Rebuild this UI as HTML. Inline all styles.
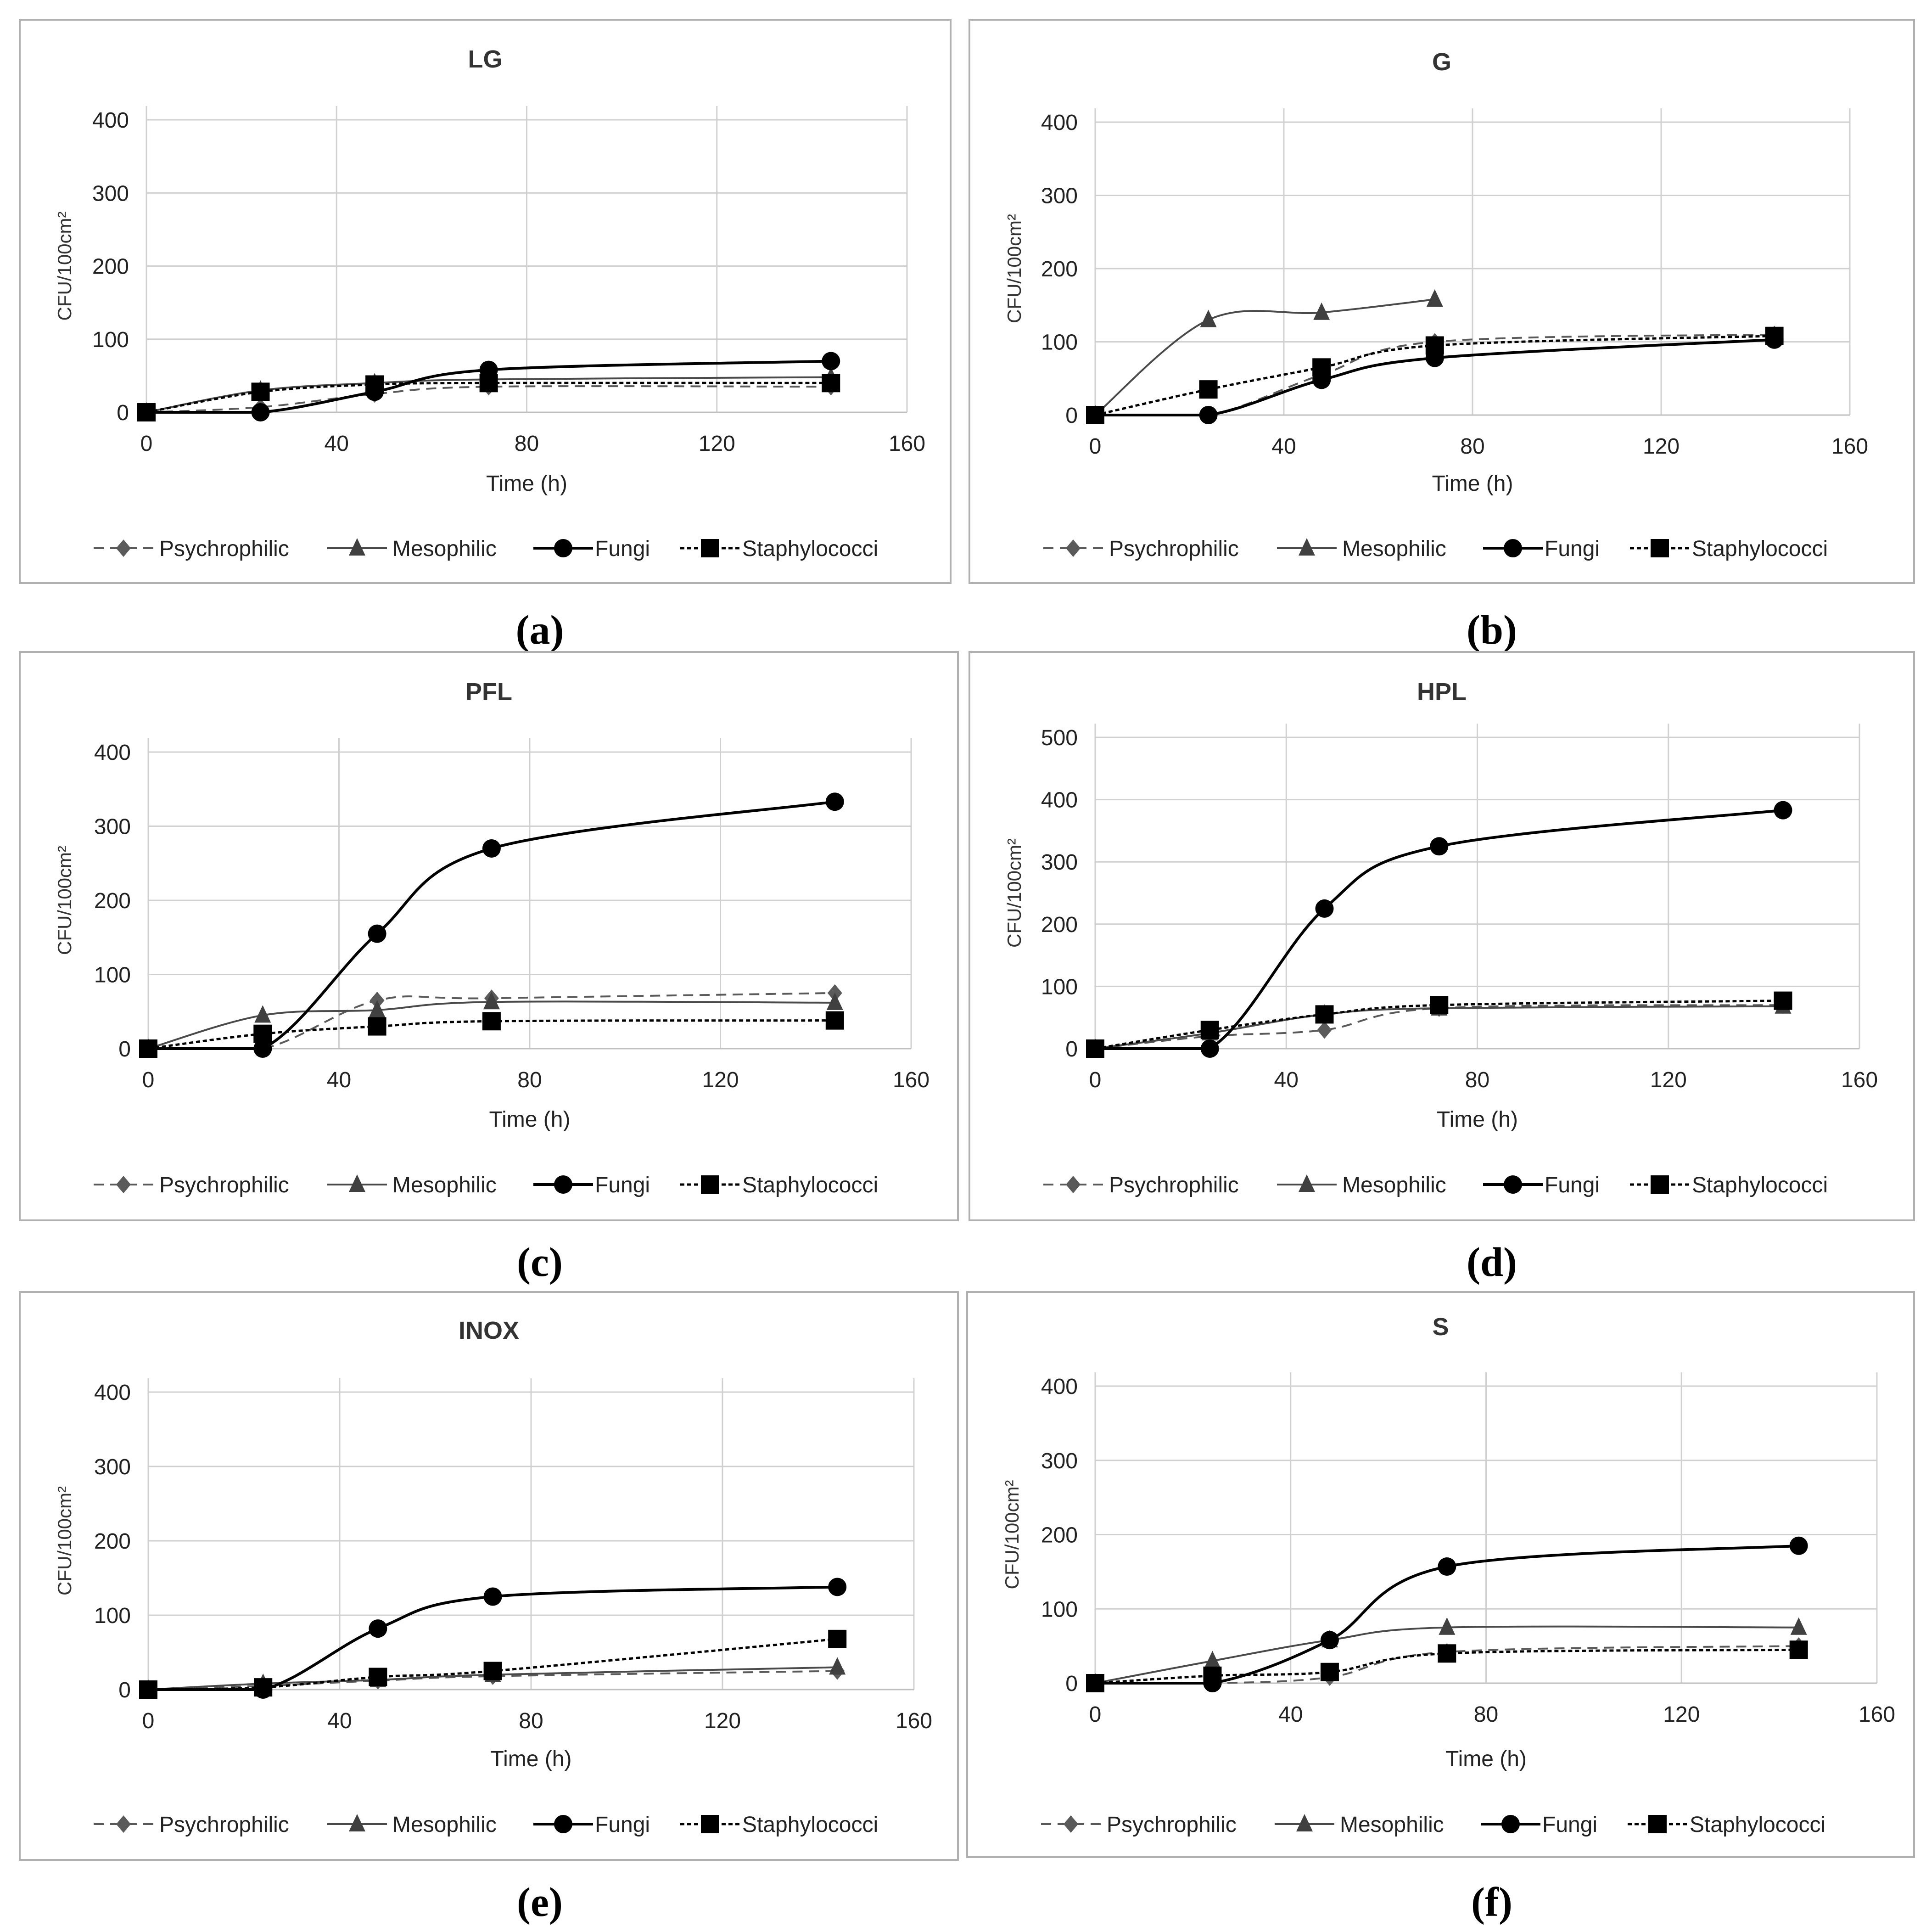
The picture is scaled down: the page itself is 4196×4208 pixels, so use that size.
<!DOCTYPE html>
<html><head><meta charset="utf-8">
<style>
html,body{margin:0;padding:0;background:#fff;}
svg{display:block;}
</style></head>
<body>
<svg id="fig" width="4196" height="4208" viewBox="0 0 4196 4208" xmlns="http://www.w3.org/2000/svg" font-family="Liberation Sans, sans-serif"></svg>
<script>
const hours = [0, 24, 48, 72, 144];
const xTicks = [0, 40, 80, 120, 160];
const seriesNames = ["Psychrophilic", "Mesophilic", "Fungi", "Staphylococci"];
const panelTitles = ["LG", "G", "PFL", "HPL", "INOX", "S"];
const panelLetters = ["(a)", "(b)", "(c)", "(d)", "(e)", "(f)"];

const lgPsy = [0, 7, 25, 35, 35];
const lgMeso = [0, 30, 40, 45, 48];
const lgFungi = [0, 0, 28, 58, 70];
const lgStaph = [0, 28, 38, 40, 40];
const gPsy = [0, 0, 55, 100, 110];
const gMeso = [0, 130, 140, 158, null];
const gFungi = [0, 0, 48, 78, 103];
const gStaph = [0, 35, 65, 95, 108];
const pflPsy = [0, 0, 65, 68, 75];
const pflMeso = [0, 45, 52, 63, 62];
const pflFungi = [0, 0, 155, 270, 333];
const pflStaph = [0, 20, 30, 37, 38];
const hplPsy = [0, 20, 30, 65, 70];
const hplMeso = [0, 25, 55, 65, 68];
const hplFungi = [0, 0, 225, 325, 383];
const hplStaph = [0, 30, 55, 70, 77];
const inoxPsy = [0, 5, 12, 18, 25];
const inoxMeso = [0, 8, 13, 20, 30];
const inoxFungi = [0, 0, 82, 125, 138];
const inoxStaph = [0, 3, 17, 25, 68];
const sPsy = [0, 0, 8, 42, 50];
const sMeso = [0, 30, 58, 75, 75];
const sFungi = [0, 0, 58, 157, 185];
const sStaph = [0, 10, 15, 40, 45];
const yTicks400 = [0, 100, 200, 300, 400];
const yTicks500 = [0, 100, 200, 300, 400, 500];

const NS = "http://www.w3.org/2000/svg";
const fig = document.getElementById("fig");
function mk(tag, attrs, parent) {
  const e = document.createElementNS(NS, tag);
  for (const k in attrs) e.setAttribute(k, attrs[k]);
  (parent || fig).appendChild(e);
  return e;
}

const panels = [
  {box:[43,43,2071,1270], plot:[319,1976,261,898], yt:yTicks400, data:[lgPsy,lgMeso,lgFungi,lgStaph], titleY:128, timeY:1052, legY:1194, letter:[1176,1372]},
  {box:[2112,43,4170,1270], plot:[2386,4030,266,904], yt:yTicks400, data:[gPsy,gMeso,gFungi,gStaph], titleY:134, timeY:1052, legY:1194, letter:[3250,1372]},
  {box:[43,1420,2087,2658], plot:[323,1985,1638,2284], yt:yTicks400, data:[pflPsy,pflMeso,pflFungi,pflStaph], titleY:1506, timeY:2437, legY:2580, letter:[1176,2749]},
  {box:[2112,1420,4170,2658], plot:[2386,4051,1606,2284], yt:yTicks500, data:[hplPsy,hplMeso,hplFungi,hplStaph], titleY:1506, timeY:2437, legY:2580, letter:[3250,2749]},
  {box:[43,2814,2087,4051], plot:[323,1991,3032,3680], yt:yTicks400, data:[inoxPsy,inoxMeso,inoxFungi,inoxStaph], titleY:2897, timeY:3830, legY:3973, letter:[1176,4143]},
  {box:[2107,2814,4170,4045], plot:[2386,4089,3019,3666], yt:yTicks400, data:[sPsy,sMeso,sFungi,sStaph], titleY:2889, timeY:3830, legY:3973, letter:[3250,4143]}
];

const styles = [
  {stroke:"#5a5a5a", w:4, dash:"22 14", marker:"diamond", fill:"#5a5a5a"},
  {stroke:"#4a4a4a", w:4, dash:"", marker:"triangle", fill:"#404040"},
  {stroke:"#000", w:6, dash:"", marker:"circle", fill:"#000"},
  {stroke:"#000", w:5, dash:"9 6", marker:"square", fill:"#000"}
];

function marker(type, cx, cy, fill, g) {
  let m;
  if (type === "circle") m = mk("circle", {cx, cy, r:20, fill}, g);
  else if (type === "square") m = mk("rect", {x:cx-20, y:cy-20, width:40, height:40, fill}, g);
  else if (type === "triangle") m = mk("polygon", {points:`${cx},${cy-22} ${cx+18},${cy+16} ${cx-18},${cy+16}`, fill}, g);
  else m = mk("polygon", {points:`${cx},${cy-19} ${cx+16},${cy} ${cx},${cy+19} ${cx-16},${cy}`, fill}, g);
  return m;
}

function smoothPath(pts, yFloor) {
  let d = `M${pts[0][0]},${pts[0][1]}`;
  for (let i = 0; i < pts.length - 1; i++) {
    const p0 = pts[i-1] || pts[i], p1 = pts[i], p2 = pts[i+1], p3 = pts[i+2] || p2;
    const c1 = [p1[0] + (p2[0]-p0[0])/6, Math.min(yFloor, p1[1] + (p2[1]-p0[1])/6)];
    const c2 = [p2[0] - (p3[0]-p1[0])/6, Math.min(yFloor, p2[1] - (p3[1]-p1[1])/6)];
    d += ` C${c1[0]},${c1[1]} ${c2[0]},${c2[1]} ${p2[0]},${p2[1]}`;
  }
  return d;
}

panels.forEach((p, pi) => {
  const g = mk("g", {});
  
  
  const [bx1, by1, bx2, by2] = p.box;
  const box = mk("rect", {x:bx1, y:by1, width:bx2-bx1, height:by2-by1, fill:"#fff", stroke:"#b0b0b0", "stroke-width":4}, g);
  
  
  const [x0, x1, yTop, y0] = p.plot;
  const ymax = p.yt[p.yt.length-1];
  const X = v => x0 + (x1-x0) * v / 160;
  const Y = v => y0 - (y0-yTop) * v / ymax;
  const cx = (bx1+bx2)/2;

  const t = mk("text", {x:cx, y:p.titleY+19, "text-anchor":"middle", "font-size":54, "font-weight":"bold", fill:"#333"}, g);
  t.textContent = panelTitles[pi];
  
  

  xTicks.forEach(v => {
    const l = mk("line", {x1:X(v), x2:X(v), y1:yTop-30, y2:y0, stroke:"#d0d0d0", "stroke-width":3}, g);
    
    
    const tx = mk("text", {x:X(v), y:y0+84, "text-anchor":"middle", "font-size":48, fill:"#222"}, g);
    tx.textContent = v;
    
    
  });
  p.yt.forEach(v => {
    const l = mk("line", {x1:x0, x2:x1, y1:Y(v), y2:Y(v), stroke:v===0?"#c0c0c0":"#d0d0d0", "stroke-width":3}, g);
    
    
    const ty = mk("text", {x:x0-38, y:Y(v)+17, "text-anchor":"end", "font-size":48, fill:"#222"}, g);
    ty.textContent = v;
    
    
  });
  const yl = mk("text", {x:0, y:0, "text-anchor":"middle", "font-size":42, fill:"#333", transform:`translate(${bx1+112},${(yTop+y0)/2}) rotate(-90)`}, g);
  yl.textContent = "CFU/100cm²";
  
  
  const xl = mk("text", {x:(x0+x1)/2, y:p.timeY+17, "text-anchor":"middle", "font-size":48, fill:"#222"}, g);
  xl.textContent = "Time (h)";
  
  

  p.data.forEach((vals, si) => {
    const st = styles[si];
    const pts = [];
    vals.forEach((v, i) => { if (v !== null) pts.push([X(hours[i]), Y(v)]); });
    const path = mk("path", {d:smoothPath(pts, Y(0)), fill:"none", stroke:st.stroke, "stroke-width":st.w, "stroke-dasharray":st.dash}, g);
    
    
    pts.forEach(pt => {
      const m = marker(st.marker, pt[0], pt[1], st.fill, g);
      
      
    });
  });

  const legOffsets = [161, 670, 1119, 1439];
  const textOffsets = [304, 812, 1253, 1574];
  seriesNames.forEach((name, si) => {
    const st = styles[si];
    const lx = bx1 + legOffsets[si];
    const le = mk("g", {}, g);
    
    
    mk("line", {x1:lx, x2:lx+130, y1:p.legY, y2:p.legY, stroke:st.stroke, "stroke-width":st.w, "stroke-dasharray":st.dash}, le);
    marker(st.marker, lx+65, p.legY, st.fill, le);
    const lt = mk("text", {x:bx1+textOffsets[si], y:p.legY+17, "font-size":48, fill:"#222"}, le);
    lt.textContent = name;
  });

  const lt = mk("text", {x:p.letter[0], y:p.letter[1]+30, "text-anchor":"middle", "font-size":90, "font-weight":"bold", fill:"#000"});
  lt.setAttribute('style', 'font-family:"Liberation Serif", serif');
  lt.textContent = panelLetters[pi];
  
  
});
</script>
</body></html>
